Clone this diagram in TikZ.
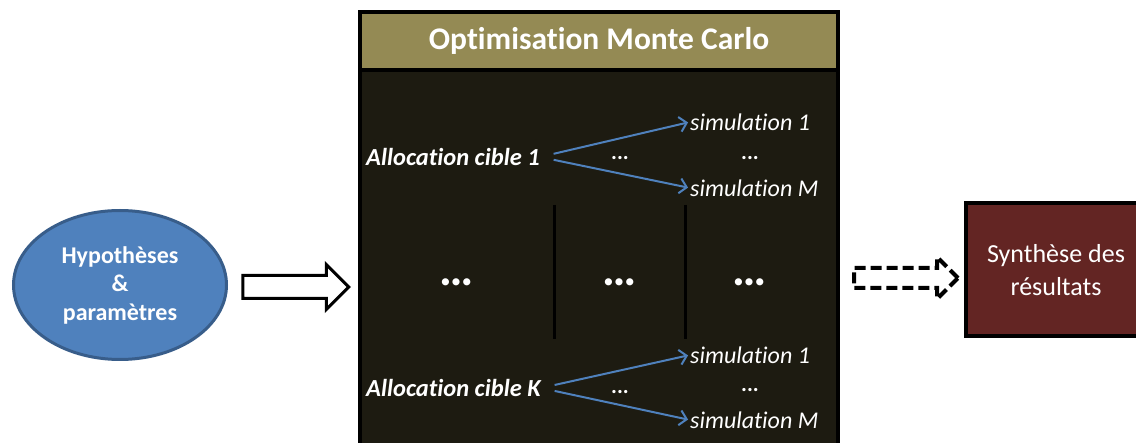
\documentclass[tikz,border=0pt]{standalone}
\usepackage{fontspec}
\setmainfont{Carlito}[Ligatures=NoCommon]
\usetikzlibrary{arrows.meta,positioning,shapes.geometric,shapes.arrows,calc}
\definecolor{hypblue}{HTML}{4F81BD}
\definecolor{hypedge}{HTML}{385D8A}
\definecolor{mcolive}{HTML}{948A54}
\definecolor{mcdark}{HTML}{1D1B11}
\definecolor{resred}{HTML}{632523}
\tikzset{
  hyp/.style={ellipse, draw=hypedge, line width=3pt, fill=hypblue, minimum width=213, minimum height=149,
    align=center, text=white, font=\fontsize{24}{28.5}\selectfont\bfseries, inner sep=0},
  mcbox/.style={rectangle, draw=black, line width=4pt, fill=mcdark, minimum width=478, minimum height=460, inner sep=0},
  mchead/.style={rectangle, draw=black, line width=4pt, fill=mcolive, minimum width=478, minimum height=58,
    text=white, font=\fontsize{31.5}{34}\selectfont\bfseries},
  alloc/.style={text=white, font=\fontsize{24.5}{28}\selectfont\bfseries\itshape, inner sep=0},
  simu/.style={text=white, font=\fontsize{24}{28}\selectfont\itshape, anchor=west, inner sep=0},
  pts/.style={text=white, font=\fontsize{22}{24}\selectfont\bfseries, inner sep=0},
  bigpts/.style={text=white, font=\fontsize{48}{48}\selectfont\bfseries, inner sep=0},
  res/.style={rectangle, draw=black, line width=4pt, fill=resred, minimum width=180, minimum height=133,
    align=center, text=white, font=\fontsize{26}{33}\selectfont},
  fleche/.style={single arrow, draw=black, line width=3pt, fill=white, minimum height=106, minimum width=0,
    inner xsep=0, inner ysep=10, single arrow head extend=11},
  bl/.style={draw=hypblue, line width=2pt, -{Straight Barb[length=7pt, width=15pt]}, shorten <=14pt, shorten >=2pt},
  sep/.style={draw=black, line width=3pt},
}
\begin{document}
\begin{tikzpicture}[x=1pt, y=-1pt]
  \useasboundingbox[fill=white] (0,0) rectangle (1136,443);
  % blocs principaux
  \node[hyp] (hyp) at (120,285) {Hypothèses\\\&\\paramètres};
  \node[mcbox] (mc) at (599,242) {};
  \node[mchead, anchor=north] (mctitle) at (mc.north) {Optimisation Monte Carlo};
  \node[res] (res) at (1056,270) {Synthèse des\\résultats};
  % allocation 1
  \node[alloc, anchor=west] (alloc1) at (366,157) {Allocation cible 1};
  \node[simu] (s11) at (690,122) {simulation 1};
  \node[simu] (s1m) at (690,188) {simulation M};
  \node[pts] (p11) at (620,158) {...};
  \node[pts] (p12) at (750,158) {...};
  \draw[bl] (alloc1.east) -- (s11.west);
  \draw[bl] (alloc1.east) -- (s1m.west);
  % milieu
  \draw[sep] (554,205) -- (554,339);
  \draw[sep] (685,205) -- (685,339);
  \node[bigpts] (m1) at (457,282) {…};
  \node[bigpts] (m2) at (620,282) {…};
  \node[bigpts] (m3) at (750,282) {…};
  % allocation K
  \node[alloc, anchor=west] (allocK) at (366,388) {Allocation cible K};
  \node[simu] (sK1) at (690,355) {simulation 1};
  \node[simu] (sKm) at (690,420) {simulation M};
  \node[pts] (pK1) at (620,392) {...};
  \node[pts] (pK2) at (750,390) {...};
  \draw[bl] (allocK.east) -- (sK1.west);
  \draw[bl] (allocK.east) -- (sKm.west);
  % fleches creuses
  \node[fleche] (f1) at ($(hyp.east)!0.5!(hyp.east-|mc.west)+(-3,2)$) {};
  \node[fleche, line width=4pt, dash pattern=on 11pt off 5pt, minimum height=104, inner ysep=8]
    (f2) at ($(res.west-|mc.east)!0.5!(res.west)+(-1,8)$) {};
\end{tikzpicture}
\end{document}
